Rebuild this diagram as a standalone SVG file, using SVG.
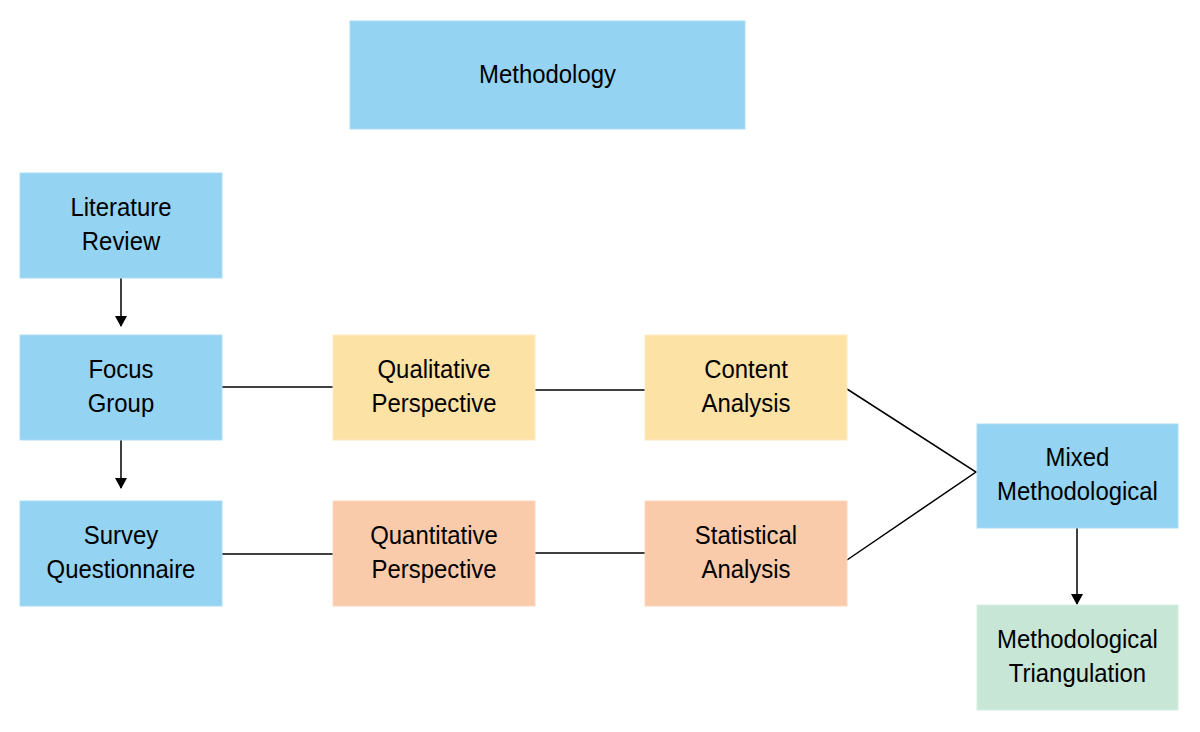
<svg xmlns="http://www.w3.org/2000/svg" width="1200" height="732" viewBox="0 0 1200 732">
<style>
.t{font-family:"Liberation Sans",Arial,sans-serif;font-size:26px;fill:#000;text-anchor:middle;transform-box:fill-box;transform-origin:center;transform:scale(0.92,1)}
.blue{fill:#94D3F1;stroke:#ACDDF4;stroke-width:1}
.yel{fill:#FDE2A6;stroke:#FEE9BC;stroke-width:1}
.org{fill:#F9CBAA;stroke:#FBD7BE;stroke-width:1}
.grn{fill:#C7E6D6;stroke:#D6EDE1;stroke-width:1}
.c{stroke:#000;stroke-width:1.5;fill:none}
</style>
<defs>
<marker id="ah" markerWidth="14" markerHeight="14" refX="10" refY="6" orient="auto" markerUnits="userSpaceOnUse">
<path d="M0,0 L11,6 L0,12 Z" fill="#000"/>
</marker>
</defs>
<rect width="1200" height="732" fill="#fff"/>
<g id="connectors">
<line class="c" x1="121" y1="278" x2="121" y2="326" marker-end="url(#ah)"/>
<line class="c" x1="121" y1="440" x2="121" y2="488" marker-end="url(#ah)"/>
<line class="c" x1="1077" y1="528" x2="1077" y2="604" marker-end="url(#ah)"/>
<line class="c" x1="222" y1="387" x2="333" y2="387"/>
<line class="c" x1="535" y1="390" x2="645" y2="390"/>
<line class="c" x1="222" y1="554" x2="333" y2="554"/>
<line class="c" x1="535" y1="553" x2="645" y2="553"/>
<polyline class="c" points="847,389 976,472 847,560"/>
</g>
<g id="methodology"><rect class="blue" x="350" y="21" width="395" height="108"/><text class="t" x="547.5" y="83">Methodology</text></g>
<g id="literature"><rect class="blue" x="20" y="173" width="202" height="105"/><text class="t" x="121" y="216">Literature</text><text class="t" x="121" y="250">Review</text></g>
<g id="focus"><rect class="blue" x="20" y="335" width="202" height="105"/><text class="t" x="121" y="378">Focus</text><text class="t" x="121" y="412">Group</text></g>
<g id="survey"><rect class="blue" x="20" y="501" width="202" height="105"/><text class="t" x="121" y="544">Survey</text><text class="t" x="121" y="578">Questionnaire</text></g>
<g id="qualitative"><rect class="yel" x="333" y="335" width="202" height="105"/><text class="t" x="434" y="378">Qualitative</text><text class="t" x="434" y="412">Perspective</text></g>
<g id="quantitative"><rect class="org" x="333" y="501" width="202" height="105"/><text class="t" x="434" y="544">Quantitative</text><text class="t" x="434" y="578">Perspective</text></g>
<g id="content"><rect class="yel" x="645" y="335" width="202" height="105"/><text class="t" x="746" y="378">Content</text><text class="t" x="746" y="412">Analysis</text></g>
<g id="statistical"><rect class="org" x="645" y="501" width="202" height="105"/><text class="t" x="746" y="544">Statistical</text><text class="t" x="746" y="578">Analysis</text></g>
<g id="mixed"><rect class="blue" x="977" y="424" width="201" height="104"/><text class="t" x="1077.5" y="466">Mixed</text><text class="t" x="1077.5" y="500">Methodological</text></g>
<g id="triangulation"><rect class="grn" x="977" y="605" width="201" height="105"/><text class="t" x="1077.5" y="648">Methodological</text><text class="t" x="1077.5" y="682">Triangulation</text></g>
</svg>
